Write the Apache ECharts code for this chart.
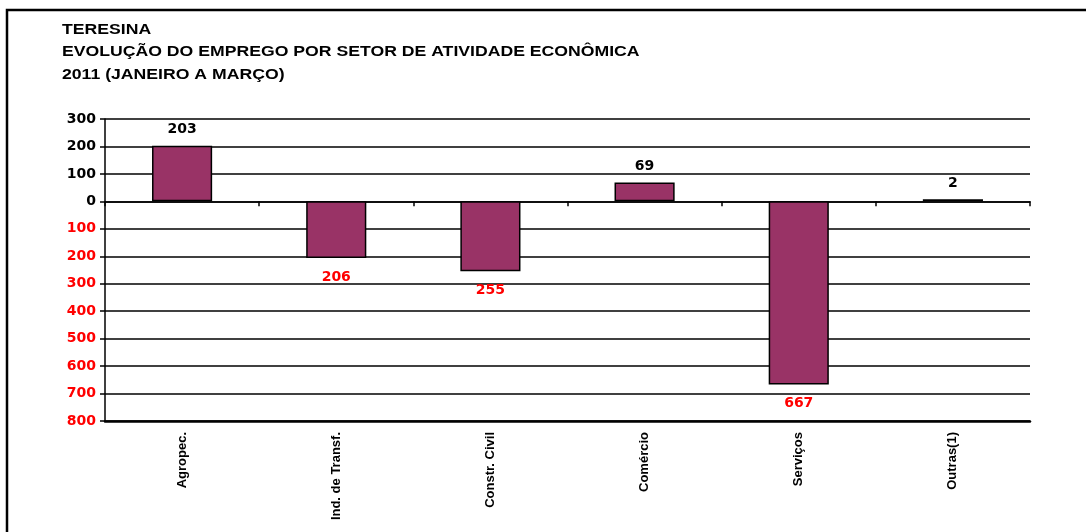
<!DOCTYPE html>
<html>
<head>
<meta charset="utf-8">
<script src="https://cdn.jsdelivr.net/npm/echarts@6/dist/echarts.min.js"></script>
<style>
html,body{margin:0;padding:0;background:#fff;}
#chart{width:1086px;height:532px;}
</style>
</head>
<body>
<div id="chart"></div>
<script>
const titleLines = ['TERESINA', 'EVOLUÇÃO DO EMPREGO POR SETOR DE ATIVIDADE ECONÔMICA', '2011 (JANEIRO A MARÇO)'];
const categories = ['Agropec.', 'Ind. de Transf.', 'Constr. Civil', 'Comércio', 'Serviços', 'Outras(1)'];
const values = [203, -206, -255, 69, -667, 2];
const yMin = -800, yMax = 300, yStep = 100;

const numFont = 'DejaVu Sans';
const txtFont = 'Liberation Sans';

const titleY = [30, 52.5, 75];
const titleGraphics = titleLines.map((t, i) => ({
  type: 'text', x: 62, y: titleY[i], scaleX: 1.26, silent: true,
  style: {text: t, fill: '#000', font: 'bold 14px "Liberation Sans", Arial, sans-serif', textVerticalAlign: 'middle', verticalAlign: 'middle'}
}));

const chart = echarts.init(document.getElementById('chart'), null, {renderer: 'canvas'});
chart.setOption({
  animation: false,
  backgroundColor: '#fff',
  graphic: [{
    type: 'rect', shape: {x: 7, y: 10, width: 1200, height: 700},
    style: {fill: null, stroke: '#000', lineWidth: 2.5}, silent: true
  }].concat(titleGraphics),
  grid: {left: 105, right: 56, top: 119, bottom: 111},
  xAxis: [{
    type: 'category', data: categories, position: 'bottom',
    axisLine: {onZero: true, lineStyle: {color: '#000', width: 1.5}},
    axisTick: {show: true, length: 5, lineStyle: {color: '#000', width: 1.5}},
    axisLabel: {show: false}, splitLine: {show: false}
  }, {
    type: 'category', data: categories, position: 'bottom',
    axisLine: {onZero: false, lineStyle: {color: '#000', width: 2.5}},
    axisTick: {show: false},
    axisLabel: {rotate: 90, margin: 11, fontFamily: txtFont, fontWeight: 'bold', fontSize: 13, color: '#000'},
    splitLine: {show: false}
  }],
  yAxis: {
    type: 'value', min: yMin, max: yMax, interval: yStep,
    axisLine: {show: true, lineStyle: {color: '#000', width: 1.5}},
    axisTick: {show: true, length: 5, lineStyle: {color: '#000', width: 1.5}},
    axisLabel: {
      margin: 9, fontFamily: numFont, fontWeight: 'bold', fontSize: 14,
      formatter: v => String(Math.abs(v)),
      color: v => (Number(v) < 0 ? '#ff0000' : '#000')
    },
    splitLine: {show: true, lineStyle: {color: '#000', width: 1.5}}
  },
  series: [{
    type: 'bar', xAxisIndex: 0, barWidth: '39%', barMinHeight: 2,
    data: values.map(v => v < 0
      ? {value: v, label: {position: 'bottom', color: '#ff0000', distance: 12}}
      : {value: v}),
    itemStyle: {color: '#993366', borderColor: '#000', borderWidth: 1.5},
    label: {
      show: true, distance: 9,
      position: 'top',
      formatter: p => String(Math.abs(p.value)),
      fontFamily: numFont, fontWeight: 'bold', fontSize: 14, color: '#000'
    }
  }]
});
</script>
</body>
</html>
